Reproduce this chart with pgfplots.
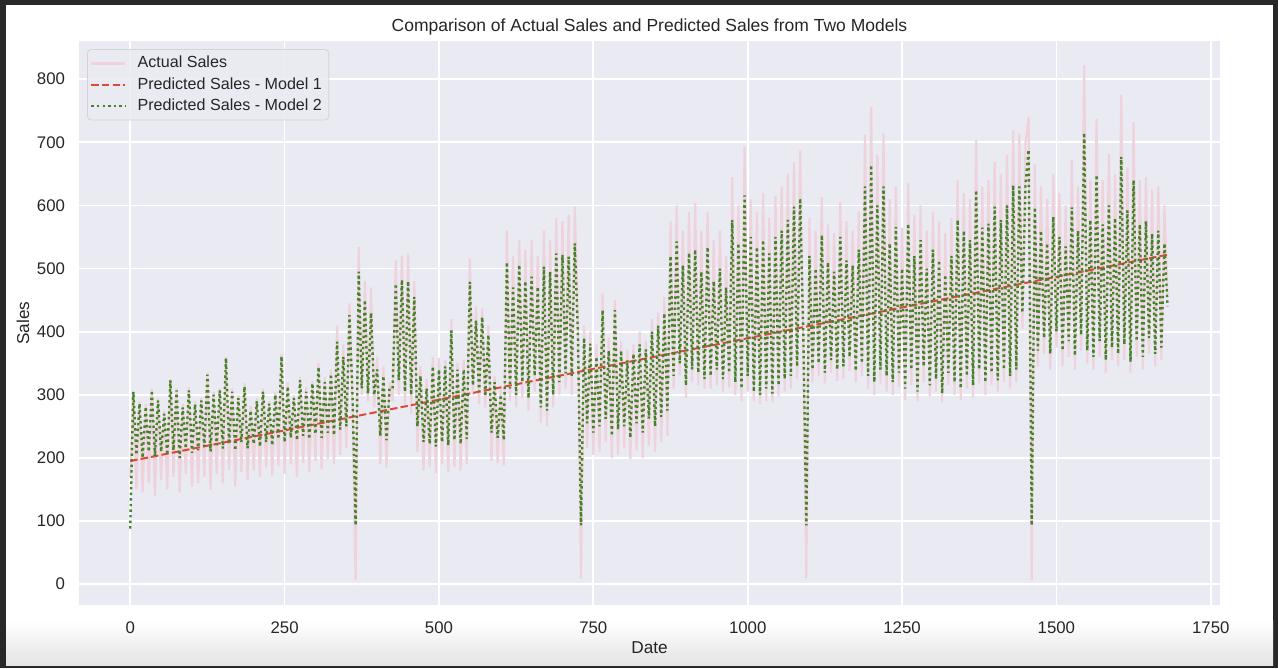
\documentclass[border=0pt]{standalone}
\usepackage{fontspec}
\setmainfont{Liberation Sans}
\usepackage{pgfplots}
\pgfplotsset{compat=1.18}
\usepackage{pgfplotstable}
\definecolor{bgax}{RGB}{234,234,242}
\definecolor{txt}{RGB}{38,38,38}
\definecolor{pinkline}{RGB}{238,211,221}
\definecolor{greenline}{RGB}{70,130,40}
\definecolor{redline}{RGB}{222,72,55}
\definecolor{framec}{RGB}{40,40,40}
\definecolor{legframe}{RGB}{210,210,215}

\pgfplotstableread{
day g a
0 88 170
5 305 300
10 205 150
15 286 290
20 200 145
25 281 285
30 210 160
35 307 310
40 203 140
45 291 295
50 210 165
55 270 275
60 205 150
65 323 325
70 212 170
75 307 310
80 200 145
85 280 285
90 215 175
95 307 312
100 208 155
105 285 290
110 212 160
115 291 295
120 218 170
125 332 335
130 210 150
135 300 305
140 220 175
145 307 310
150 215 160
155 358 360
160 222 180
165 305 310
170 212 155
175 295 300
180 225 178
185 313 318
190 215 165
195 275 282
200 222 180
205 290 295
210 218 170
215 305 310
220 225 185
225 286 290
230 220 172
235 300 305
240 230 188
245 361 365
250 225 175
255 313 320
260 232 190
265 295 300
270 228 170
275 323 328
280 235 192
285 305 312
290 230 178
295 318 322
300 238 195
305 344 350
310 232 182
315 320 328
320 240 198
325 333 340
330 236 190
335 384 410
340 245 205
345 360 380
350 250 215
355 426 445
360 300 280
365 93 6
370 495 534
375 310 300
380 450 480
385 302 290
390 430 470
395 300 280
400 340 360
405 235 190
410 330 345
415 228 185
420 312 320
425 312 290
430 476 513
435 323 300
440 482 520
445 305 285
450 480 524
455 300 270
460 455 480
465 250 210
470 330 345
475 225 180
480 310 325
485 222 185
490 345 360
495 218 176
500 340 358
505 225 190
510 345 355
515 220 178
520 402 420
525 228 185
530 340 350
535 222 180
540 340 355
545 230 190
550 479 516
555 315 300
560 418 440
565 305 285
570 423 437
575 298 280
580 395 410
585 240 195
590 320 330
595 232 192
600 300 310
605 228 188
610 510 560
615 310 290
620 470 520
625 300 280
630 506 545
635 320 295
640 480 530
645 295 275
650 487 545
655 330 305
660 471 520
665 280 255
670 503 560
675 275 250
680 495 545
685 300 280
690 524 580
695 320 300
700 522 575
705 334 310
710 519 585
715 330 300
720 540 598
725 397 420
730 93 9
735 390 410
740 255 215
745 381 400
750 240 205
755 360 380
760 250 210
765 434 461
770 262 225
775 370 390
780 235 200
785 434 450
790 245 205
795 370 385
800 250 215
805 355 372
810 232 198
815 365 380
820 255 212
825 380 400
830 240 200
835 372 385
840 262 220
845 400 420
850 250 210
855 410 430
860 265 225
865 429 455
870 275 235
875 520 575
880 330 310
885 543 600
890 350 330
895 505 560
900 315 295
905 525 590
910 340 320
915 530 604
920 335 315
925 495 560
930 325 310
935 534 590
940 330 310
945 480 545
950 340 315
955 500 560
960 325 305
965 470 520
970 335 312
975 577 645
980 320 300
985 540 600
990 310 290
995 616 693
1000 330 305
1005 550 610
1010 305 290
1015 534 590
1020 300 285
1025 545 620
1030 310 290
1035 524 580
1040 302 288
1045 550 615
1050 315 298
1055 560 630
1060 325 305
1065 577 650
1070 330 310
1075 598 669
1080 345 325
1085 611 687
1090 400 380
1095 93 10
1100 520 580
1105 340 320
1110 500 560
1115 350 330
1120 553 613
1125 335 318
1130 510 570
1135 355 335
1140 495 556
1145 340 322
1150 550 605
1155 345 325
1160 513 575
1165 360 338
1170 505 560
1175 338 320
1180 530 590
1185 350 330
1190 630 712
1195 330 310
1200 664 756
1205 320 300
1210 600 680
1215 340 318
1220 630 714
1225 330 305
1230 540 610
1235 320 300
1240 566 630
1245 335 312
1250 500 565
1255 310 292
1260 571 635
1265 340 315
1270 520 585
1275 305 290
1280 545 600
1285 345 320
1290 500 560
1295 315 298
1300 530 590
1305 325 305
1310 513 575
1315 302 288
1320 490 556
1325 335 315
1330 520 580
1335 320 300
1340 577 640
1345 310 292
1350 560 620
1355 330 310
1360 545 610
1365 315 295
1370 624 703
1375 340 318
1380 565 630
1385 320 300
1390 571 640
1395 335 315
1400 598 669
1405 323 305
1410 577 650
1415 340 320
1420 600 680
1425 330 310
1430 632 719
1435 340 320
1440 630 714
1445 430 405
1450 635 700
1455 688 740
1460 93 7
1465 597 665
1470 370 345
1475 560 630
1480 390 365
1485 540 610
1490 365 340
1495 582 650
1500 400 375
1505 550 620
1510 370 345
1515 535 600
1520 385 360
1525 597 672
1530 362 340
1535 560 630
1540 395 370
1545 715 822
1550 370 350
1555 577 640
1560 360 340
1565 648 737
1570 385 360
1575 570 640
1580 355 335
1585 600 682
1590 375 355
1595 580 650
1600 365 345
1605 677 775
1610 380 355
1615 592 660
1620 352 335
1625 640 732
1630 385 360
1635 570 640
1640 360 340
1645 575 645
1650 390 365
1655 555 625
1660 365 345
1665 560 630
1670 375 355
1675 540 600
1680 440 455
}\sales

\begin{document}
\begin{tikzpicture}[x=1bp,y=1bp]
\fill[framec] (0,0) rectangle (639,334);
\fill[white] (3,1.25) rectangle (636.5,331.5);
\shade[top color=white,bottom color={rgb,255:red,228;green,228;blue,228}] (3,1.25) rectangle (636.5,24);
\begin{axis}[
  at={(39.5bp,31.5bp)}, anchor=south west,
  scale only axis, width=570.5bp, height=282bp,
  xmin=-83, xmax=1765, ymin=-33, ymax=860.5,
  axis background/.style={fill=bgax},
  axis line style={draw=none},
  major tick length=0pt,
  xtick={0,250,...,1750}, ytick={0,100,...,800},
  grid=major,
  major grid style={white, line width=0.85bp},
  tick label style={font=\fontsize{8.4bp}{10bp}\selectfont, text=txt},
  /pgf/number format/assume math mode=true,
  /pgf/number format/set thousands separator={},
  xticklabel style={yshift=-5bp},
  yticklabel style={xshift=-3.5bp},
  xlabel={Date}, ylabel={Sales},
  label style={font=\fontsize{8.6bp}{10bp}\selectfont, text=txt},
  xlabel style={yshift=3bp},
  ylabel style={yshift=-3bp},
  title={Comparison of Actual Sales and Predicted Sales from Two Models},
  title style={font=\fontsize{8.75bp}{10bp}\selectfont, text=txt, yshift=-6.5bp},
  legend style={at={(0,1)}, anchor=north west, xshift=4bp, yshift=-4bp,
    fill=bgax, fill opacity=0.85, text opacity=1, draw=legframe, rounded corners=2bp,
    font=\fontsize{8.05bp}{10bp}\selectfont, text=txt,
    row sep=-0.7bp, inner sep=1.4bp, column sep=3.5bp},
  legend cell align=left,
]
\addplot[pinkline, line width=1.1bp] table[x=day, y=a] {\sales};
\addlegendentry{Actual Sales}
\addplot[redline, line width=1bp, dash pattern=on 3.7bp off 1.6bp] coordinates {(0,195) (1680,522)};
\addlegendentry{Predicted Sales - Model 1}
\addplot[greenline, line width=1.2bp, dash pattern=on 1.2bp off 1.6bp] table[x=day, y=g] {\sales};
\addlegendentry{Predicted Sales - Model 2}
\end{axis}
\path[use as bounding box] (0,0) rectangle (639,334);
\end{tikzpicture}
\end{document}
